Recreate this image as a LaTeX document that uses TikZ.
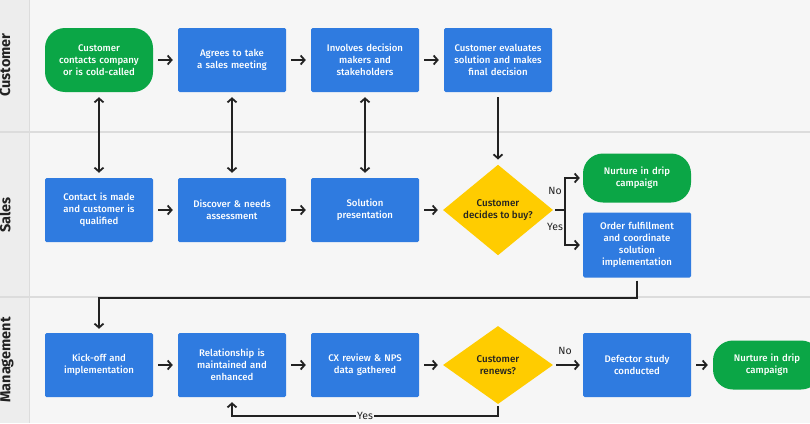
\documentclass[tikz,border=0pt]{standalone}
\usepackage{fontspec}
\setsansfont{Fira Sans}
\newfontfamily\medfont{Fira Sans Medium}
\usepackage{tikz}
\usetikzlibrary{positioning,shapes.geometric,arrows.meta,calc}
\definecolor{ink}       {HTML}{222222}
\definecolor{stepblue}  {HTML}{2F7BE0}
\definecolor{startgreen}{HTML}{0BA646}
\definecolor{gold}      {HTML}{FFCC00}
\definecolor{paper}     {HTML}{F6F6F6}
\definecolor{headfill}  {HTML}{EDEDED}
\definecolor{rail}      {HTML}{DCDCDC}
\tikzset{
  every node/.style={font=\sffamily},
  % --- nodes
  box/.style   = {align=center, inner sep=4pt, text width=100pt, minimum height=64pt,
                  font=\medfont\fontsize{9.6}{12}\selectfont, text=white},
  act/.style   = {box, fill=stepblue, rounded corners=1.5pt},
  term/.style  = {box, fill=startgreen, rounded corners=20pt},
  short/.style = {minimum height=49pt},
  dec/.style   = {diamond, fill=gold, text=ink, align=center, inner sep=0pt,
                  minimum width=110pt, minimum height=78pt,
                  font=\medfont\fontsize{9.8}{12}\selectfont},
  lane/.style  = {rotate=90, font=\sffamily\bfseries\fontsize{14.5}{16}\selectfont, text=ink},
  yn/.style    = {font=\sffamily\fontsize{10.5}{12}\selectfont, text=ink, inner sep=1.5pt},
  % --- edges
  e/.style     = {-{Straight Barb[length=4pt,width=9pt]}, line width=1.8pt, draw=ink,
                  shorten <=5pt, shorten >=5pt},
  ee/.style    = {e, {Straight Barb[length=4pt,width=9pt]}-{Straight Barb[length=4pt,width=9pt]}},
}
\begin{document}
\begin{tikzpicture}[x=1pt,y=-1pt]
  \useasboundingbox (0,0) rectangle (810,423);
  % lanes
  \fill[paper] (0,0) rectangle (810,423);
  \fill[headfill] (0,0) rectangle (29,423);
  \draw[rail, line width=1.5pt] (29.5,0) -- (29.5,423);
  \draw[rail, line width=2pt] (0,131.5) -- (810,131.5);
  \draw[rail, line width=2pt] (0,296.5) -- (810,296.5);
  \node[lane] (lcust) at (5,65)  {Customer};
  \node[lane] (lsale) at (5,215) {Sales};
  \node[lane] (lmgmt) at (7,360) {Management};

  % customer lane
  \node[term] (c1) at (99,60)  {Customer\\contacts company\\or is cold-called};
  \node[act]  (c2) at (232,60) {Agrees to take\\a sales meeting};
  \node[act]  (c3) at (365,60) {Involves decision\\makers and\\stakeholders};
  \node[act]  (c4) at (498,60) {Customer evaluates\\solution and makes\\final decision};

  % sales lane
  \node[act]  (s1) at (99,210)  {Contact is made\\and customer is\\qualified};
  \node[act]  (s2) at (232,210) {Discover \& needs\\assessment};
  \node[act]  (s3) at (365,210) {Solution\\presentation};
  \node[dec]  (d1) at (498,210) {Customer\\decides to buy?};
  \node[term, short] (nur1) at (637,178) {Nurture in drip\\campaign};
  \node[act, minimum height=65pt] (ord) at (637,245)
    {Order fulfillment\\and coordinate\\solution\\implementation};

  % management lane
  \node[act]  (m1) at (99,365)  {Kick-off and\\implementation};
  \node[act]  (m2) at (232,365) {Relationship is\\maintained and\\enhanced};
  \node[act]  (m3) at (365,365) {CX review \& NPS\\data gathered};
  \node[dec]  (d2) at (498,365) {Customer\\renews?};
  \node[act]  (m4) at (637,365) {Defector study\\conducted};
  \node[term, short] (nur2) at (767,365) {Nurture in drip\\campaign};

  % flow
  \draw[e] (c1.east) -- (c2.west);
  \draw[e] (c2.east) -- (c3.west);
  \draw[e] (c3.east) -- (c4.west);
  \draw[ee] (c1.south) -- (s1.north);
  \draw[ee] (c2.south) -- (s2.north);
  \draw[ee] (c3.south) -- (s3.north);
  \draw[e] (c4.south) -- (d1.north);

  \draw[e] (s1.east) -- (s2.west);
  \draw[e] (s2.east) -- (s3.west);
  \draw[e] (s3.east) -- (d1.west);
  \draw[e, shorten <=2pt, shorten >=3pt] (d1.east) -- ++(12,0) |- (nur1.west);
  \draw[e, shorten <=2pt, shorten >=3pt] (d1.east) -- ++(12,0) |- (ord.west);
  \node[yn] (no1)  at (555,191) {No};
  \node[yn] (yes1) at (555,227) {Yes};
  \draw[e, shorten <=3pt, shorten >=4pt] (ord.south) -- ++(0,20) -| (m1.north);

  \draw[e] (m1.east) -- (m2.west);
  \draw[e] (m2.east) -- (m3.west);
  \draw[e] (m3.east) -- (d2.west);
  \draw[e, shorten <=3pt, shorten >=3pt] (d2.east) -- (m4.west);
  \node[yn] (no2) at (565,351) {No};
  \draw[e] (m4.east) -- (nur2.west);
  \draw[e, shorten <=2pt] (d2.south) -- ++(0,12)
    -| node[yn, fill=paper, pos=0.25] (yes2) {Yes} (m2.south);
\end{tikzpicture}
\end{document}
